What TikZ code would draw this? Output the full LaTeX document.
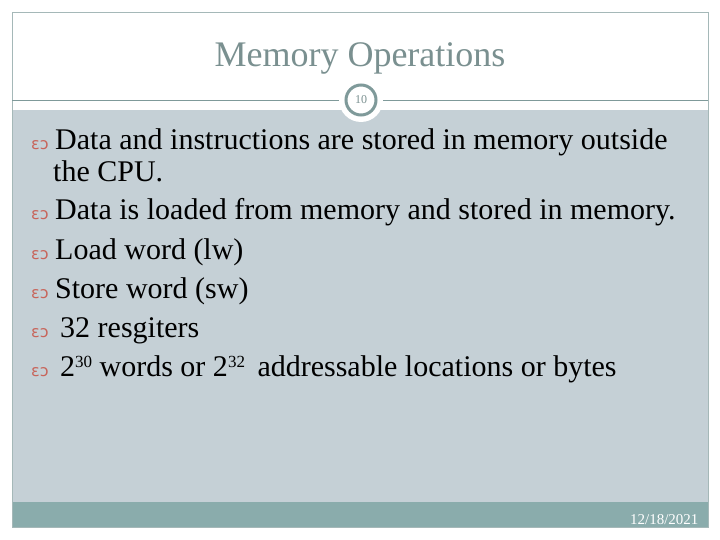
\documentclass[tikz,border=0pt]{standalone}
\usepackage{fontspec}
\setmainfont{Liberation Serif}
\newfontfamily\bulfont{DejaVu Sans}
\definecolor{pane}{HTML}{C5D0D6}
\definecolor{bar}{HTML}{8AACAC}
\definecolor{ring}{HTML}{7F9A9A}
\definecolor{ttl}{HTML}{7A9090}
\definecolor{bul}{HTML}{C8645A}
\begin{document}
\begin{tikzpicture}[x=1pt,y=-1pt,
  line/.style={anchor=base west,font=\fontsize{30}{34}\selectfont,inner sep=0pt},
  bl/.style={anchor=base west,font=\bulfont\fontsize{16}{18}\selectfont,text=bul,inner sep=0pt}]
\useasboundingbox (0,0) rectangle (720,540);
\fill[white] (0,0) rectangle (720,540);
\fill[pane] (12,110) rectangle (708,502);
\fill[bar] (12,502) rectangle (708,527);
\draw[ring!70,line width=0.8pt] (12,12) rectangle (708,527);
\draw[ring,line width=0.8pt] (12,100) -- (708,100);
\fill[white] (361,100) circle (22);
\draw[ring,line width=3pt,fill=white] (361,100) circle (15);
\node[font=\fontsize{12}{12}\selectfont,text=ttl] (pg) at (361,100) {10};
\node[font=\fontsize{36}{38}\selectfont,text=ttl] (title) at (360,58) {Memory Operations};
\node[anchor=base east,font=\fontsize{15}{16}\selectfont,text=white] (date) at (702,524) {12/18/2021};
\foreach \y/\t [count=\i] in {150/{Data and instructions are stored in memory outside},
  220/{Data is loaded from memory and stored in memory.},
  259/{Load word (lw)},
  298/{Store word (sw)},
  337/{\,32 resgiters},
  376/{\,2\raisebox{0.6ex}{\fontsize{17}{18}\selectfont 30} words or 2\raisebox{0.6ex}{\fontsize{17}{18}\selectfont 32}\, addressable locations or bytes}}{
  \node[bl] (b\i) at (31,\y) {ɛɔ};
  \node[line] (t\i) at (55,\y) {\t};
}
\node[line] (t1b) at (53,182) {the CPU.};
\end{tikzpicture}
\end{document}
